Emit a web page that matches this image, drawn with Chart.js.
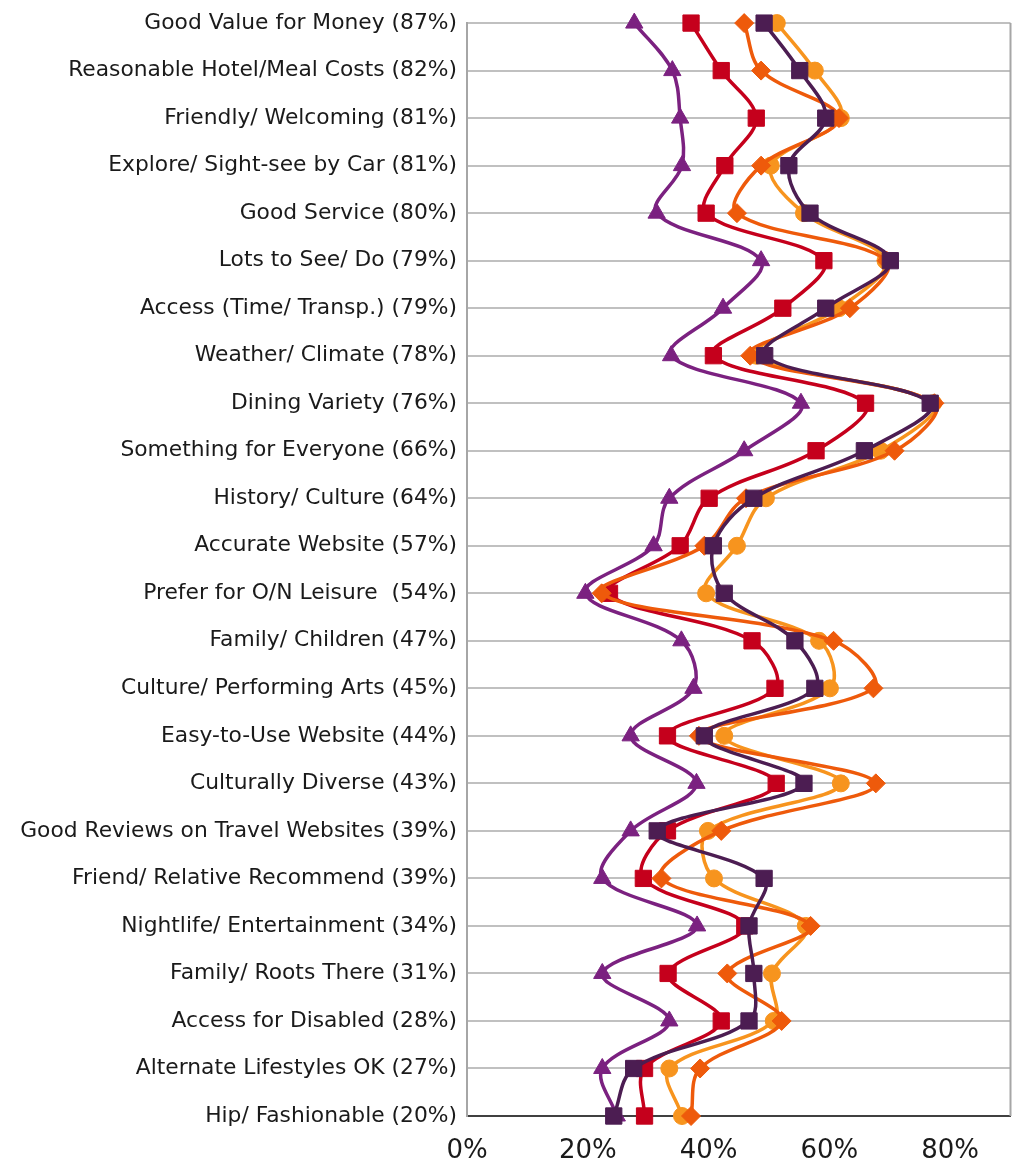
<!DOCTYPE html>
<html>
<head>
<meta charset="utf-8">
<script src="https://cdn.jsdelivr.net/npm/chart.js@4.4.1/dist/chart.umd.min.js"></script>
<style>
  body { margin: 0; background: #fff; }
  #wrap { width: 1023px; height: 1167px; }
</style>
</head>
<body>
<div id="wrap"><canvas id="attrChart"></canvas></div>
<script>
// Categories (top to bottom)
const categories = [
  "Good Value for Money (87%)",
  "Reasonable Hotel/Meal Costs (82%)",
  "Friendly/ Welcoming (81%)",
  "Explore/ Sight-see by Car (81%)",
  "Good Service (80%)",
  "Lots to See/ Do (79%)",
  "Access (Time/ Transp.) (79%)",
  "Weather/ Climate (78%)",
  "Dining Variety (76%)",
  "Something for Everyone (66%)",
  "History/ Culture (64%)",
  "Accurate Website (57%)",
  "Prefer for O/N Leisure  (54%)",
  "Family/ Children (47%)",
  "Culture/ Performing Arts (45%)",
  "Easy-to-Use Website (44%)",
  "Culturally Diverse (43%)",
  "Good Reviews on Travel Websites (39%)",
  "Friend/ Relative Recommend (39%)",
  "Nightlife/ Entertainment (34%)",
  "Family/ Roots There (31%)",
  "Access for Disabled (28%)",
  "Alternate Lifestyles OK (27%)",
  "Hip/ Fashionable (20%)"
];

// Series values (%)
const purpleVals = [27.7, 34.0, 35.3, 35.6, 31.4, 48.7, 42.4, 33.8, 55.3, 45.9, 33.5, 30.9,
  19.6, 35.5, 37.5, 27.1, 38.0, 27.1, 22.4, 38.1, 22.4, 33.5, 22.4, 24.8];
const redVals = [37.1, 42.1, 47.9, 42.7, 39.6, 59.1, 52.3, 40.8, 66.0, 57.8, 40.1, 35.3,
  23.6, 47.2, 51.0, 33.2, 51.2, 33.2, 29.2, 46.0, 33.3, 42.1, 29.4, 29.4];
const orangeVals = [45.9, 48.7, 61.6, 48.7, 44.7, 69.5, 63.4, 46.9, 77.4, 70.8, 46.2, 39.3,
  22.3, 60.7, 67.3, 38.4, 67.7, 42.1, 32.2, 56.9, 43.1, 52.1, 38.6, 37.1];
const lightOrangeVals = [51.3, 57.6, 61.9, 50.3, 55.8, 69.3, 61.6, 47.9, 77.2, 68.5, 49.5, 44.7,
  39.6, 58.3, 60.1, 42.6, 61.9, 39.9, 40.9, 56.1, 50.5, 50.8, 33.5, 35.6];
const darkPurpleVals = [49.2, 55.1, 59.4, 53.3, 56.8, 70.1, 59.4, 49.3, 76.7, 65.8, 47.5, 40.8,
  42.6, 54.3, 57.6, 39.3, 55.8, 31.5, 49.2, 46.7, 47.5, 46.7, 27.6, 24.3];

// X axis tick values
const xTicks = [0, 20, 40, 60, 80];

// Right edge of the plot area
const frameLines = {
  id: "frameLines",
  afterDraw(chart) {
    const { ctx, chartArea } = chart;
    ctx.save();
    ctx.strokeStyle = "#a6a6a6";
    ctx.lineWidth = 2;
    ctx.beginPath();
    ctx.moveTo(chartArea.right, chartArea.top);
    ctx.lineTo(chartArea.right, chartArea.bottom);
    ctx.stroke();
    ctx.restore();
  }
};

function makeSeries(label, data, color, style, radius, order) {
  return {
    label: label,
    data: data,
    borderColor: color,
    backgroundColor: color,
    pointBackgroundColor: color,
    pointBorderColor: color,
    pointStyle: style,
    pointRadius: radius,
    pointBorderWidth: 1,
    borderWidth: 3.5,
    tension: 0.35,
    fill: false,
    order: order
  };
}

const ctx = document.getElementById("attrChart").getContext("2d");
const myChart = new Chart(ctx, {
  type: "line",
  data: {
    labels: categories,
    datasets: [
      makeSeries("Series 1", purpleVals, "#7b2180", "triangle", 10, 5),
      makeSeries("Series 2", redVals, "#c5001c", "rect", 11.5, 4),
      makeSeries("Series 3", lightOrangeVals, "#f7941e", "circle", 8.5, 3),
      makeSeries("Series 4", orangeVals, "#ee5a0b", "rectRot", 9.5, 2),
      makeSeries("Series 5", darkPurpleVals, "#4c1d52", "rect", 11.5, 1)
    ]
  },
  options: {
    indexAxis: "y",
    responsive: true,
    maintainAspectRatio: false,
    animation: false,
    layout: {
      padding: { top: 22, right: 10, left: 0, bottom: 0 }
    },
    scales: {
      x: {
        type: "linear",
        min: 0,
        max: 90,
        grid: { display: false, drawTicks: false },
        border: { display: true, color: "#404040", width: 2 },
        afterBuildTicks: function (scale) {
          scale.ticks = xTicks.map(v => ({ value: v }));
        },
        afterFit: function (scale) {
          scale.height = 51;
        },
        ticks: {
          color: "#1a1a1a",
          padding: 20,
          font: { family: "DejaVu Sans", size: 26 },
          callback: function (value) {
            return value + "%";
          }
        }
      },
      y: {
        type: "category",
        offset: false,
        grid: { color: "#c0c0c0", lineWidth: 2, drawTicks: false },
        border: { display: true, color: "#a6a6a6", width: 2 },
        afterFit: function (scale) {
          scale.width = 467;
        },
        ticks: {
          color: "#1a1a1a",
          padding: 10,
          autoSkip: false,
          font: { family: "DejaVu Sans", size: 21.8 }
        }
      }
    },
    plugins: {
      legend: { display: false },
      tooltip: { enabled: false }
    }
  },
  plugins: [frameLines]
});
</script>
</body>
</html>
